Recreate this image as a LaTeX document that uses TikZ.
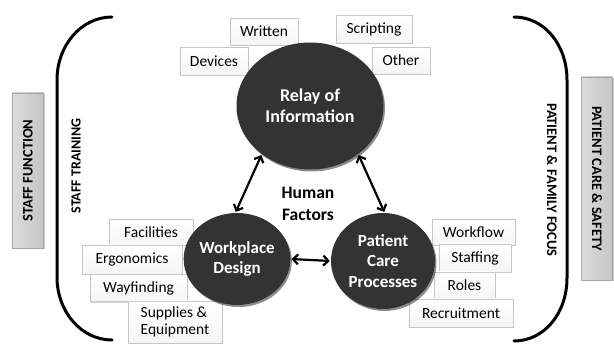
\documentclass[tikz,border=0pt]{standalone}
\usepackage{fontspec}
\setmainfont{Carlito}
\usetikzlibrary{arrows.meta,shadows,shapes.geometric}
\begin{document}
\begin{tikzpicture}[x=1pt,y=-1pt,
  lbl/.style={draw=gray!45, top color=white, bottom color=gray!8, line width=0.8pt, inner sep=0pt, align=center,
    font=\fontsize{15.5}{17.5}\selectfont,
    drop shadow={shadow xshift=1pt,shadow yshift=-1.2pt,opacity=0.35,fill=gray}},
  hub/.style={ellipse, fill=black!80, text=white, inner sep=0pt, align=center,
    font=\bfseries\fontsize{17}{20.5}\selectfont,
    drop shadow={shadow xshift=1.5pt,shadow yshift=-2pt,opacity=0.45,fill=black}},
  sidebox/.style={draw=gray!70, left color=gray!28, right color=gray!45, line width=0.6pt, inner sep=0pt,
    minimum height=31pt, font=\bfseries\fontsize{14.5}{17}\selectfont,
    drop shadow={shadow xshift=1.2pt,shadow yshift=-1.5pt,opacity=0.4,fill=gray}},
  sidetxt/.style={font=\bfseries\fontsize{14.5}{17}\selectfont, inner sep=0pt},
  bracket/.style={line width=3pt, line cap=round},
  arr/.style={line width=2.2pt, {Straight Barb[length=5pt,width=10pt]}-{Straight Barb[length=5pt,width=10pt]}, shorten <=1pt, shorten >=1pt}
]
\useasboundingbox (0,0) rectangle (614,344);

% brackets
\draw[bracket] (112,17) .. controls (81.6,17) and (57,45) .. (57,80) -- (57,277)
  .. controls (57,312) and (81.6,340) .. (112,340);
\draw[bracket] (514,17) .. controls (544.4,17) and (567,45) .. (567,80) -- (567,278)
  .. controls (567,313) and (544.4,341) .. (514,341);

% side boxes and texts
\node[sidebox, rotate=90, minimum width=155pt] (sf) at (28,170.5) {STAFF FUNCTION};
\node[sidetxt, rotate=90, font=\bfseries\fontsize{14}{16}\selectfont] (st) at (76,166) {STAFF TRAINING};
\node[sidebox, rotate=-90, minimum width=203pt] (pcs) at (597,178.5) {PATIENT CARE \& SAFETY};
\node[sidetxt, rotate=-90] (pff) at (552,180) {PATIENT \& FAMILY FOCUS};

% label boxes
\node[lbl, minimum width=68pt, minimum height=27pt] (written) at (264,31.5) {Written};
\node[lbl, minimum width=68pt, minimum height=28pt] (devices) at (214,61) {Devices};
\node[lbl, minimum width=76pt, minimum height=28pt] (scripting) at (374,29) {Scripting};
\node[lbl, minimum width=58pt, minimum height=27pt] (other) at (401,60.5) {Other};

\node[lbl, minimum width=84pt, minimum height=26pt] (facilities) at (151,232) {Facilities};
\node[lbl, minimum width=100pt, minimum height=29pt] (ergonomics) at (132,259.5) {Ergonomics};
\node[lbl, minimum width=97pt, minimum height=27pt] (wayfinding) at (138.5,288) {Wayfinding};
\node[lbl, minimum width=94pt, minimum height=42pt, align=left] (supplies) at (175,322) {Supplies \&\\Equipment};

\node[lbl, minimum width=83pt, minimum height=26pt] (workflow) at (473.5,232) {Workflow};
\node[lbl, minimum width=72pt, minimum height=28pt] (staffing) at (475,258) {Staffing};
\node[lbl, minimum width=61pt, minimum height=26pt] (roles) at (464.5,285) {Roles};
\node[lbl, minimum width=104pt, minimum height=28pt] (recruit) at (461,313) {Recruitment};

% hubs
\node[hub, minimum width=147pt, minimum height=127pt, font=\bfseries\fontsize{18}{21}\selectfont] (relay) at (310,106) {Relay of\\Information};
\node[hub, minimum width=104pt, minimum height=92pt] (wd) at (237,259) {Workplace\\Design};
\node[hub, minimum width=104pt, minimum height=96pt] (pc) at (383,261) {Patient\\Care\\Processes};

\node[font=\bfseries\fontsize{17.5}{22}\selectfont, align=center, inner sep=0pt] (hf) at (308,204) {Human\\Factors};

% arrows
\draw[arr] (relay.225) -- (wd.92);
\draw[arr] (relay.315) -- (pc.88);
\draw[arr] (wd.east) -- (pc.west);
\end{tikzpicture}
\end{document}
